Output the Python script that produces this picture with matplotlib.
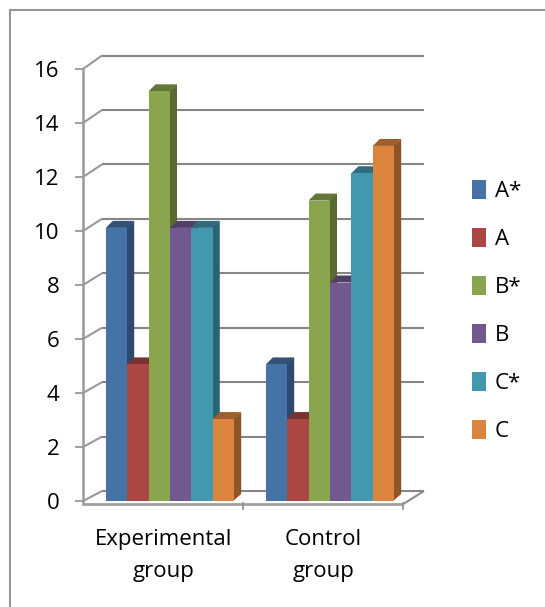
# Grouped 3D-look column chart, grades per group
import matplotlib
matplotlib.use('Agg')
import matplotlib.pyplot as plt
from matplotlib.lines import Line2D
from matplotlib.patches import Patch
from matplotlib.colors import to_rgb

groups = ['Experimental\ngroup', 'Control\ngroup']
series = ['A*', 'A', 'B*', 'B', 'C*', 'C']
a_star = [10, 5]
a = [5, 3]
b_star = [15, 11]
b = [10, 8]
c_star = [10, 12]
c = [3, 13]
yticks = [0, 2, 4, 6, 8, 10, 12, 14, 16]

values = [a_star, a, b_star, b, c_star, c]
colors = ['#4572A7', '#AA4643', '#89A54E', '#71588F', '#4198AF', '#DB843D']

W, H = 545, 607
plt.rcParams['font.family'] = ['Open Sans', 'DejaVu Sans']
fig = plt.figure(figsize=(W / 100, H / 100), dpi=100, facecolor='white')


# pixel box (from top left) to figure fractions
def box(left, right, top, bottom):
    return [left / W, 1 - bottom / H, (right - left) / W, (bottom - top) / H]


# outer frame, only top and left show
frame_col = '#969696'
fig.add_artist(Line2D([9.5 / W, 9.5 / W], [0, 1 - 9.5 / H], color=frame_col, lw=1.5))
fig.add_artist(Line2D([9.5 / W, 1], [1 - 9.5 / H, 1 - 9.5 / H], color=frame_col, lw=1.5))

# one group is 160 px wide, first group centre at x=170
px_group = 160.0
xlim = ((83 - 170) / px_group, (424 - 170) / px_group)
bar_w = 21.4 / px_group
depth_x = 7 / px_group

# axes for the walls, ticks and labels
wall = fig.add_axes(box(83, 424, 69, 501))
wall.set_xlim(xlim)
wall.set_ylim(0, 16)
wall.patch.set_visible(False)
for name in ['top', 'right', 'bottom']:
    wall.spines[name].set_visible(False)
wall.spines['left'].set_color('#999999')
wall.spines['left'].set_linewidth(1.8)
wall.spines['left'].set_bounds(-0.12, 16)

wall_x = 19 / px_group
line_col = '#868686'
for v in yticks:
    # back wall is slightly stretched by the perspective
    back = v + 0.37 + v * 0.13 / 16
    wall.plot([xlim[0], xlim[0] + wall_x], [v, back], color='#999999', lw=1.5,
              clip_on=False, solid_capstyle='butt')
    wall.plot([xlim[0] + wall_x, xlim[1]], [back, back], color=line_col, lw=1.5,
              clip_on=False, solid_capstyle='butt')

# floor line and its depth edge
floor_y = -0.12
floor_end = (403 - 170) / px_group
wall.plot([xlim[0], floor_end], [floor_y, floor_y], color='#a0a0a0', lw=2, clip_on=False,
          solid_capstyle='butt')
wall.plot([floor_end, xlim[1]], [floor_y, 0.37], color='#8c8c8c', lw=1.5,
          clip_on=False, solid_capstyle='butt')
for g in [0.5 - 7 / px_group, 1.5 - 7 / px_group]:
    wall.plot([g, g], [floor_y + 0.06, floor_y - 0.16], color='#8c8c8c', lw=1.2, clip_on=False)

wall.set_yticks(yticks)
wall.tick_params(axis='y', length=6, width=1.3, color='#999999', pad=11, labelsize=16,
                 labelcolor='black')
wall.set_xticks([])
for i, name in enumerate(groups):
    wall.text(i - 6.5 / px_group, -1.03, name, ha='center', va='top', fontsize=16,
              linespacing=1.7, color='black')

# bars are a little taller per unit than the ticks, they sit in the middle of the depth
bars = fig.add_axes(box(83, 424, 64, 501))
bars.set_xlim(xlim)
bars.set_ylim(0, 16)
bars.axis('off')
depth_y = 7 / 27.3


def shade(col, f):
    return tuple(x * f for x in to_rgb(col))


for i, (vals, col) in enumerate(zip(values, colors)):
    offset = (i - 3) * bar_w
    for g, v in enumerate(vals):
        x0 = g + offset
        x1 = x0 + bar_w
        z = 2 + i
        bars.fill([x1 - 1 / px_group, x1 + depth_x, x1 + depth_x, x1 - 1 / px_group],
                  [0, depth_y, v + depth_y, v], color=shade(col, 0.65), lw=0, zorder=z)
        bars.fill([x0, x0 + depth_x, x1 + depth_x, x1],
                  [v, v + depth_y, v + depth_y, v], color=shade(col, 0.72), lw=0, zorder=z)
        bars.bar(x0, v, width=bar_w, align='edge', color=col, lw=0, zorder=z + 0.5)

handles = [Patch(facecolor=col, edgecolor='none', label=s) for s, col in zip(series, colors)]
fig.legend(handles=handles, loc='center left', bbox_to_anchor=(472 / W, 1 - 311 / H),
           frameon=False, fontsize=16, labelspacing=1.175, handlelength=0.63, handleheight=0.9,
           handletextpad=0.4, borderpad=0, borderaxespad=0)

fig.savefig('out.png', dpi=100)
